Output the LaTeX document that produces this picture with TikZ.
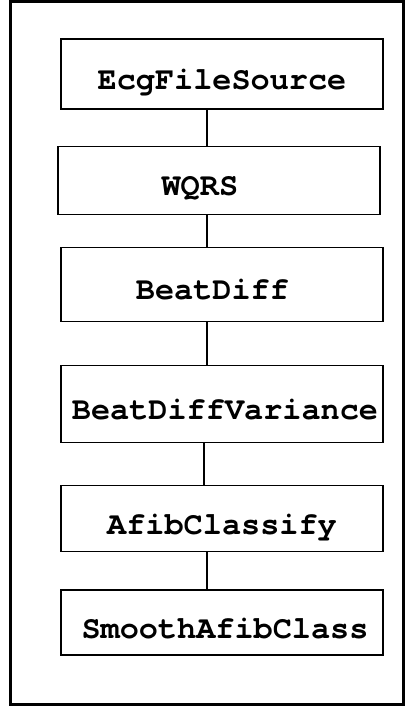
\documentclass[tikz,border=0pt]{standalone}
\usepackage{fontspec}
\setmonofont{TeX Gyre Cursor}[Ligatures=CommonOff]
\usepackage{tikz}
\usetikzlibrary{positioning}

\begin{document}
\begin{tikzpicture}[
    x=1bp, y=-1bp,
    node distance=36bp,
    stage/.style={rectangle, draw, line width=1.2bp, minimum width=322bp, inner sep=0pt,
        text height=31bp, text depth=0bp, font=\fontsize{32}{35}\selectfont\ttfamily\bfseries},
    link/.style={line width=1.2bp},
    frame/.style={line width=3bp}
]
\useasboundingbox (0,0) rectangle (405,707);
\draw[frame] (10,1.5) rectangle (403,704.3);

\node[stage, minimum height=70bp] (src) at (222,74) {EcgFileSource};
\node[stage, minimum height=68bp, below=36bp of src, xshift=-3bp] (wqrs) {WQRS\hphantom{WQ}};
\node[stage, minimum height=74bp, below=32bp of wqrs, xshift=3bp] (diff) {BeatDiff\hphantom{B}};
\node[stage, minimum height=77bp, below=43bp of diff] (var) {\hphantom{}\hspace{6bp}BeatDiffVariance};
\node[stage, minimum height=66bp, below=42bp of var] (afib) {AfibClassify};
\node[stage, minimum height=65bp, below=37bp of afib] (smooth) {\hphantom{}\hspace{6bp}SmoothAfibClass};

\draw[link] ([xshift=-15bp]src.south) -- ([xshift=-12bp]wqrs.north);
\draw[link] ([xshift=-12bp]wqrs.south) -- ([xshift=-15bp]diff.north);
\draw[link] ([xshift=-15bp]diff.south) -- ([xshift=-15bp]var.north);
\draw[link] ([xshift=-18bp]var.south) -- ([xshift=-18bp]afib.north);
\draw[link] ([xshift=-15bp]afib.south) -- ([xshift=-15bp]smooth.north);
\end{tikzpicture}
\end{document}
